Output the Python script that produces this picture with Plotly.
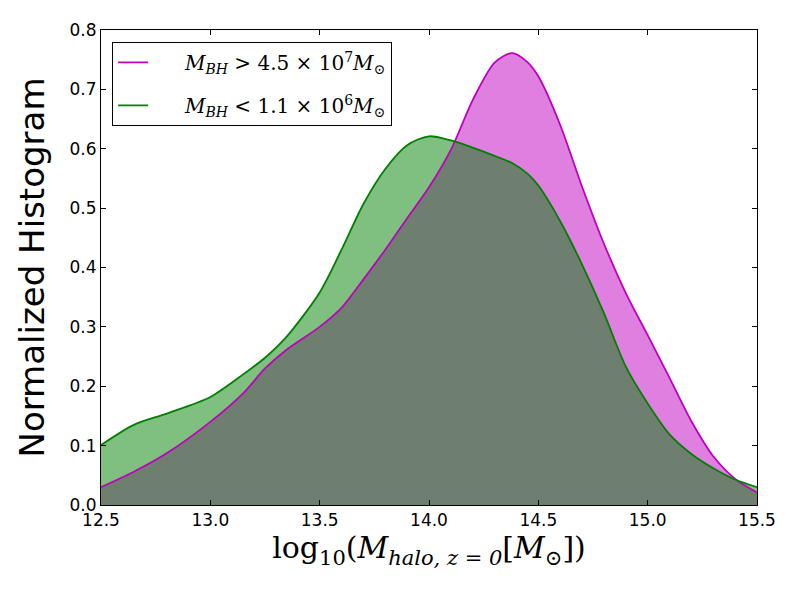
import plotly.graph_objects as go

# halo mass grid (log10 M_halo) and the two smoothed histograms
log_mhalo = [12.5, 12.65, 12.8, 13.0, 13.15, 13.25, 13.35, 13.5, 13.6, 13.7,
             13.8, 13.9, 14.0, 14.1, 14.2, 14.3, 14.38, 14.45, 14.5, 14.6,
             14.7, 14.8, 14.9, 15.0, 15.1, 15.2, 15.3, 15.4, 15.5]
hist_high_bh = [0.030, 0.056, 0.087, 0.140, 0.188, 0.230, 0.262, 0.300, 0.332, 0.380,
                0.430, 0.483, 0.535, 0.598, 0.682, 0.745, 0.761, 0.746, 0.722, 0.640,
                0.536, 0.440, 0.357, 0.286, 0.214, 0.141, 0.082, 0.044, 0.021]
hist_low_bh = [0.101, 0.135, 0.154, 0.182, 0.220, 0.248, 0.284, 0.358, 0.430, 0.507,
               0.566, 0.606, 0.621, 0.614, 0.602, 0.588, 0.576, 0.558, 0.538, 0.478,
               0.405, 0.323, 0.233, 0.171, 0.119, 0.086, 0.062, 0.043, 0.030]

pad = "&nbsp;" * 5
label_high = pad + "<i>M<sub>BH</sub></i> > 4.5 × 10<sup>7</sup><i>M</i><sub>⊙</sub>"
label_low = pad + "<i>M<sub>BH</sub></i> < 1.1 × 10<sup>6</sup><i>M</i><sub>⊙</sub>"

x_ticks = [12.5, 13.0, 13.5, 14.0, 14.5, 15.0, 15.5]
y_ticks = [0.0, 0.1, 0.2, 0.3, 0.4, 0.5, 0.6, 0.7, 0.8]

magenta = "#bf00bf"
green = "#008000"
smooth = 0.8

fig = go.Figure()

# filled areas first (magenta under green), then the lines on top
fig.add_trace(go.Scatter(x=log_mhalo, y=hist_high_bh, fill="tozeroy",
                         fillcolor="rgba(191,0,191,0.5)", mode="lines",
                         line=dict(width=0, shape="spline", smoothing=smooth),
                         showlegend=False, hoverinfo="skip"))
fig.add_trace(go.Scatter(x=log_mhalo, y=hist_low_bh, fill="tozeroy",
                         fillcolor="rgba(0,128,0,0.5)", mode="lines",
                         line=dict(width=0, shape="spline", smoothing=smooth),
                         showlegend=False, hoverinfo="skip"))
fig.add_trace(go.Scatter(x=log_mhalo, y=hist_high_bh, mode="lines", name=label_high,
                         legendgroup="high",
                         line=dict(color=magenta, width=1.8, shape="spline", smoothing=smooth)))
fig.add_trace(go.Scatter(x=log_mhalo, y=hist_low_bh, mode="lines", name=label_low,
                         legendgroup="low",
                         line=dict(color=green, width=1.8, shape="spline", smoothing=smooth)))

axis_style = dict(showline=True, linecolor="black", linewidth=1, mirror="ticks",
                  ticks="inside", ticklen=5, tickcolor="black", showgrid=False,
                  zeroline=False, tickfont=dict(family="DejaVu Sans", size=17, color="black"))

fig.update_xaxes(range=[12.5, 15.5], tickvals=x_ticks,
                 ticktext=[f"{v:.1f}" for v in x_ticks],
                 title=dict(text="log<sub>10</sub>(<i>M<sub>halo, z = 0</sub></i>[<i>M</i><sub>⊙</sub>])",
                            font=dict(family="DejaVu Serif", size=30, color="black"),
                            standoff=6),
                 **axis_style)
fig.update_yaxes(range=[0, 0.8], tickvals=y_ticks,
                 ticktext=[f"{v:.1f}" for v in y_ticks],
                 title=dict(text="Normalized Histogram",
                            font=dict(family="DejaVu Sans", size=34, color="black"),
                            standoff=14),
                 **axis_style)

# the page body adds 8px around the figure, so the figure is 8px smaller
fig.update_layout(width=792, height=592,
                  margin=dict(l=93, r=43, t=20, b=95),
                  plot_bgcolor="white", paper_bgcolor="white",
                  legend=dict(x=0.017, y=0.975, xanchor="left", yanchor="top",
                              bordercolor="black", borderwidth=1, bgcolor="white",
                              font=dict(family="DejaVu Serif", size=20, color="black"),
                              tracegroupgap=14))

fig.write_html("out.html")
